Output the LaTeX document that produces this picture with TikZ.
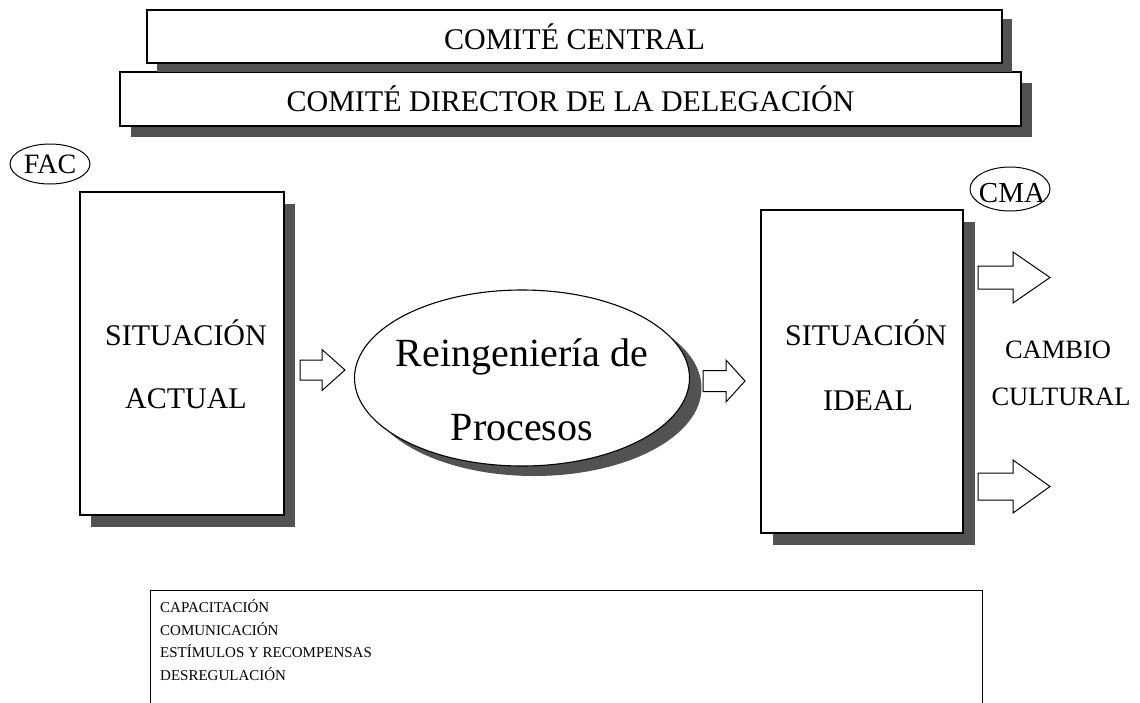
\documentclass[tikz,border=0pt]{standalone}
\usepackage{fontspec}
\setmainfont{Liberation Serif}
\usetikzlibrary{shapes.geometric,shadows}
\definecolor{shadowgray}{gray}{0.32}
\tikzset{
  framebox/.style={draw=black, line width=1.1pt, fill=white, inner sep=0pt},
  shad/.style 2 args={drop shadow={shadow xshift=#1, shadow yshift=#2, fill=shadowgray, opacity=1}},
  bigtxt/.style={font=\fontsize{30}{36}\selectfont, inner sep=0pt},
  midtxt/.style={font=\fontsize{26.5}{32}\selectfont, inner sep=0pt, anchor=base},
  reintxt/.style={font=\fontsize{40}{48}\selectfont, inner sep=0pt, anchor=base},
  smalltxt/.style={font=\fontsize{15}{18}\selectfont, inner sep=0pt, anchor=base west},
  tag/.style={draw=black, line width=1pt, ellipse, inner sep=0pt},
  arrowline/.style={draw=black, line width=1pt, fill=white, line join=miter},
}
\newcommand{\blockarr}[6]{%
  \draw[arrowline] (#1,#2-#5) -- (#1+#3,#2-#5) -- (#1+#3,#2-#6) -- (#1+#3+#4,#2)
    -- (#1+#3,#2+#6) -- (#1+#3,#2+#5) -- (#1,#2+#5) -- cycle;}
\begin{document}
\begin{tikzpicture}[x=1pt,y=-1pt]
\useasboundingbox[fill=white] (0,0) rectangle (1140,702);

% top committee boxes
\node[framebox, shad={11pt}{-11pt}, minimum width=901pt, minimum height=54pt, bigtxt] (c2) at (570.5,99) {COMITÉ DIRECTOR DE LA DELEGACIÓN};
\node[framebox, shad={10pt}{-9pt}, minimum width=855pt, minimum height=53pt, bigtxt] (c1) at (574.5,36.5) {COMITÉ CENTRAL};

% FAC tag
\node[tag, minimum width=80pt, minimum height=40pt, font=\fontsize{28}{34}\selectfont] (fac) at (50,164) {FAC};

% situacion actual
\node[framebox, shad={11pt}{-12pt}, minimum width=204pt, minimum height=323pt] (sa) at (182,353.5) {};
\node[bigtxt, anchor=base] (saA) at (186,345) {SITUACIÓN};
\node[bigtxt, anchor=base] (saB) at (186,408) {ACTUAL};

% reingenieria
\node[draw=black, line width=1.1pt, fill=white, ellipse, inner sep=0pt, shad={12pt}{-10pt}, minimum width=335pt, minimum height=176pt] (rp) at (522,378) {};
\node[reintxt] (rpA) at (522,366) {Reingeniería de};
\node[reintxt] (rpB) at (522,440) {Procesos};

% situacion ideal
\node[framebox, shad={12pt}{-12pt}, minimum width=202pt, minimum height=323pt] (si) at (862,371.5) {};
\node[bigtxt, anchor=base] (siA) at (866,345) {SITUACIÓN};
\node[bigtxt, anchor=base] (siB) at (868,410) {IDEAL};

% CMA tag
\node[tag, minimum width=80pt, minimum height=44pt] (cma) at (1010,189) {};
\node[font=\fontsize{29}{34}\selectfont, inner sep=0pt, anchor=base] (cmaT) at (1012,202) {CMA};

% cambio cultural
\node[midtxt] (cc1) at (1058,358) {CAMBIO};
\node[midtxt] (cc2) at (1061,405) {CULTURAL};

% block arrows
\blockarr{300}{370}{22}{23}{10}{20.5}
\blockarr{703}{381}{23}{19}{10.5}{21}
\blockarr{978}{277.5}{35}{37}{11.5}{25.5}
\blockarr{978}{486.5}{35}{37}{13.5}{26.5}

% bottom box
\draw[line width=1pt] (150,712) -- (150,590) -- (982,590) -- (982,712);
\node[smalltxt] (b1) at (160,612) {CAPACITACIÓN};
\node[smalltxt] (b2) at (160,635) {COMUNICACIÓN};
\node[smalltxt] (b3) at (160,657) {ESTÍMULOS Y RECOMPENSAS};
\node[smalltxt] (b4) at (160,680) {DESREGULACIÓN};
\end{tikzpicture}
\end{document}
